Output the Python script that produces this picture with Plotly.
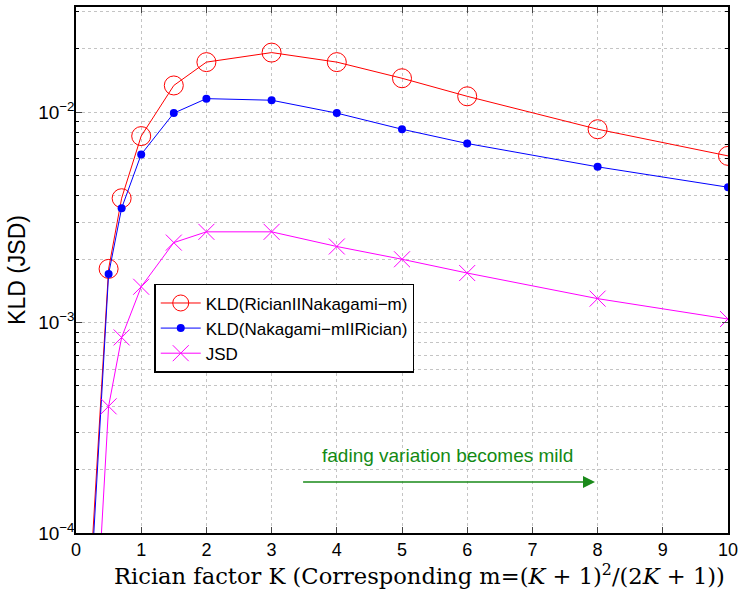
import plotly.graph_objects as go

K = [0.2, 0.5, 0.7, 1, 1.5, 2, 3, 4, 5, 6, 8, 10]
kld_rn = [4.9e-5, 1.80e-3, 3.9e-3, 7.7e-3, 0.0134, 0.0173, 0.0192, 0.0173, 0.0145, 0.0119, 0.0083, 0.0062]
kld_nr = [4.0e-5, 1.70e-3, 3.5e-3, 6.3e-3, 0.0099, 0.0116, 0.0114, 0.0099, 0.0083, 0.0071, 0.0055, 0.0044]
jsd = [9.0e-6, 4.0e-4, 8.5e-4, 1.48e-3, 2.4e-3, 2.7e-3, 2.7e-3, 2.3e-3, 2.0e-3, 1.72e-3, 1.3e-3, 1.04e-3]

names = ["KLD(RicianIINakagami\u2212m)", "KLD(Nakagami\u2212mIIRician)", "JSD"]
x_title = "Rician factor K (Corresponding m=(<i>K</i> + 1)<sup>2</sup>/(2<i>K</i> + 1))"

xticks = list(range(0, 11))
ymajor = [1e-4, 1e-3, 1e-2]
ymajor_text = ["10<sup>\u22124</sup>", "10<sup>\u22123</sup>", "10<sup>\u22122</sup>"]
yminor = [m * 10 ** e for e in (-4, -3, -2) for m in range(2, 10)]

fig = go.Figure()
fig.add_trace(go.Scatter(x=K, y=kld_rn, mode="lines+markers", name=names[0],
                         line=dict(color="red", width=1),
                         marker=dict(symbol="circle-open", size=19, color="red", line=dict(width=1))))
fig.add_trace(go.Scatter(x=K, y=kld_nr, mode="lines+markers", name=names[1],
                         line=dict(color="blue", width=1),
                         marker=dict(symbol="circle", size=8, color="blue")))
fig.add_trace(go.Scatter(x=K, y=jsd, mode="lines+markers", name=names[2],
                         line=dict(color="magenta", width=1),
                         marker=dict(symbol="x-thin-open", size=16, color="magenta", line=dict(width=1, color="magenta"))))

fig.add_annotation(x=7.96, y=-3.758, ax=3.46, ay=-3.758, xref="x", yref="y", axref="x", ayref="y",
                   text="", showarrow=True, arrowhead=2, arrowsize=1.6, arrowwidth=1.5, arrowcolor="#1a8a1a")
fig.add_annotation(x=5.70, y=-3.630, xref="x", yref="y", text="fading variation becomes mild",
                   showarrow=False, font=dict(color="#138a13", size=19, family="Liberation Sans, Arial"))
fig.add_annotation(x=0.527, y=-0.0795, xref="paper", yref="paper", xanchor="center", yanchor="middle",
                   text=x_title, showarrow=False,
                   font=dict(family="DejaVu Serif, Liberation Serif, serif", size=22.6, color="black"))

grid = "#c4c4c4"
fig.update_layout(
    width=743, height=592,
    margin=dict(l=76, r=11, t=5, b=59),
    paper_bgcolor="white", plot_bgcolor="white",
    font=dict(family="Liberation Sans, Arial", size=18, color="black"),
    showlegend=True,
    legend=dict(x=0.120, y=0.4735, xanchor="left", yanchor="top",
                bordercolor="black", borderwidth=1.5, bgcolor="white",
                font=dict(size=17), tracegroupgap=0, itemwidth=40),
)
fig.update_xaxes(range=[0, 10], tickvals=xticks, ticks="inside", ticklen=6,
                 showline=True, linecolor="black", linewidth=1.5, mirror="ticks",
                 showgrid=True, gridcolor=grid, griddash="dot", gridwidth=1, zeroline=False,
                 tickfont=dict(size=18, family="Liberation Sans, Arial", color="black"))
fig.update_yaxes(type="log", range=[-4, -1.5], tickvals=ymajor, ticktext=ymajor_text,
                 ticks="inside", ticklen=6, ticklabelstandoff=-4,
                 showline=True, linecolor="black", linewidth=1.5, mirror="ticks",
                 showgrid=True, gridcolor=grid, griddash="dot", gridwidth=1, zeroline=False,
                 tickfont=dict(size=19, family="Liberation Sans, Arial", color="black"),
                 minor=dict(tickvals=yminor, ticks="inside", ticklen=3, tickcolor="black",
                            showgrid=True, gridcolor=grid, griddash="dot", gridwidth=1),
                 title=dict(text="KLD (JSD)", font=dict(size=23), standoff=6))

fig.write_html("out.html")
